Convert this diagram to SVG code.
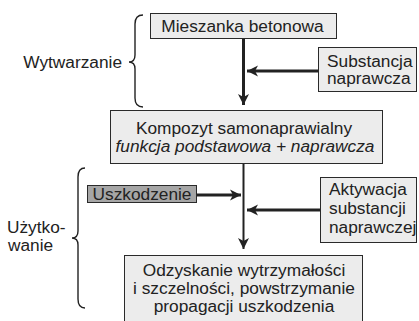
<svg xmlns="http://www.w3.org/2000/svg" width="419" height="321" viewBox="0 0 419 321">
<style>
.box{fill:#ececec;stroke:#2a2a2a;stroke-width:1}
.dark{fill:#a6a6a6;stroke:#2a2a2a;stroke-width:1}
text{font-family:"Liberation Sans",Arial,sans-serif;font-size:17.3px;fill:#222}
.c{text-anchor:middle}
.e{text-anchor:end}
.it{font-style:italic}
.ln{stroke:#222;fill:none}
.brace{stroke:#222;fill:none;stroke-width:1.4}
</style>
<defs>
<marker id="ah" viewBox="-11 -6 12 12" markerUnits="userSpaceOnUse" markerWidth="12" markerHeight="12" refX="0" refY="0" orient="auto">
<path d="M0,0 L-11,-5.5 L-8,0 L-11,5.5 Z" fill="#222"/>
</marker>
</defs>
<rect width="419" height="321" fill="#fff"/>
<g id="connectors">
<line class="ln" x1="243.5" y1="39" x2="243.5" y2="105" stroke-width="3" marker-end="url(#ah)"/>
<line class="ln" x1="318" y1="71" x2="247" y2="71" stroke-width="3" marker-end="url(#ah)"/>
<line class="ln" x1="243.5" y1="164" x2="243.5" y2="249" stroke-width="2" marker-end="url(#ah)"/>
<line class="ln" x1="197" y1="195" x2="241" y2="195" stroke-width="3" marker-end="url(#ah)"/>
<line class="ln" x1="320" y1="210" x2="247" y2="210" stroke-width="3" marker-end="url(#ah)"/>
</g>
<g id="brace-wytwarzanie">
<path class="brace" d="M143,15 Q135,15 135,24 L135,55 Q135,62 129,62 Q135,62 135,69 L135,98 Q135,107 143,107"/>
<text class="e" x="122" y="68">Wytwarzanie</text>
</g>
<g id="brace-uzytkowanie">
<path class="brace" d="M85,168 Q78,168 78,177 L78,231 Q78,238 72,238 Q78,238 78,245 L78,299 Q78,308 85,308"/>
<text x="7" y="233">Użytko-</text>
<text x="8" y="251">wanie</text>
</g>
<g id="mieszanka">
<rect class="box" x="150.5" y="13.5" width="186" height="25"/>
<text class="c" x="242.5" y="32">Mieszanka betonowa</text>
</g>
<g id="substancja">
<rect class="box" x="318.5" y="47.5" width="98" height="44"/>
<text x="327" y="67">Substancja</text>
<text x="327" y="84">naprawcza</text>
</g>
<g id="kompozyt">
<rect class="box" x="110.5" y="110.5" width="272" height="53"/>
<text class="c" x="244" y="134">Kompozyt samonaprawialny</text>
<text class="c it" x="245" y="152">funkcja podstawowa + naprawcza</text>
</g>
<g id="uszkodzenie">
<rect class="dark" x="87.5" y="185.5" width="109" height="17"/>
<text class="c" x="142" y="200">Uszkodzenie</text>
</g>
<g id="aktywacja">
<rect class="box" x="320.5" y="177.5" width="96" height="65"/>
<text x="329" y="195">Aktywacja</text>
<text x="329" y="214">substancji</text>
<text x="329" y="233">naprawczej</text>
</g>
<g id="odzyskanie">
<rect class="box" x="124.5" y="255.5" width="238" height="70"/>
<text class="c" x="244" y="276">Odzyskanie wytrzymałości</text>
<text class="c" x="244" y="294">i szczelności, powstrzymanie</text>
<text class="c" x="244" y="312">propagacji uszkodzenia</text>
</g>
</svg>
